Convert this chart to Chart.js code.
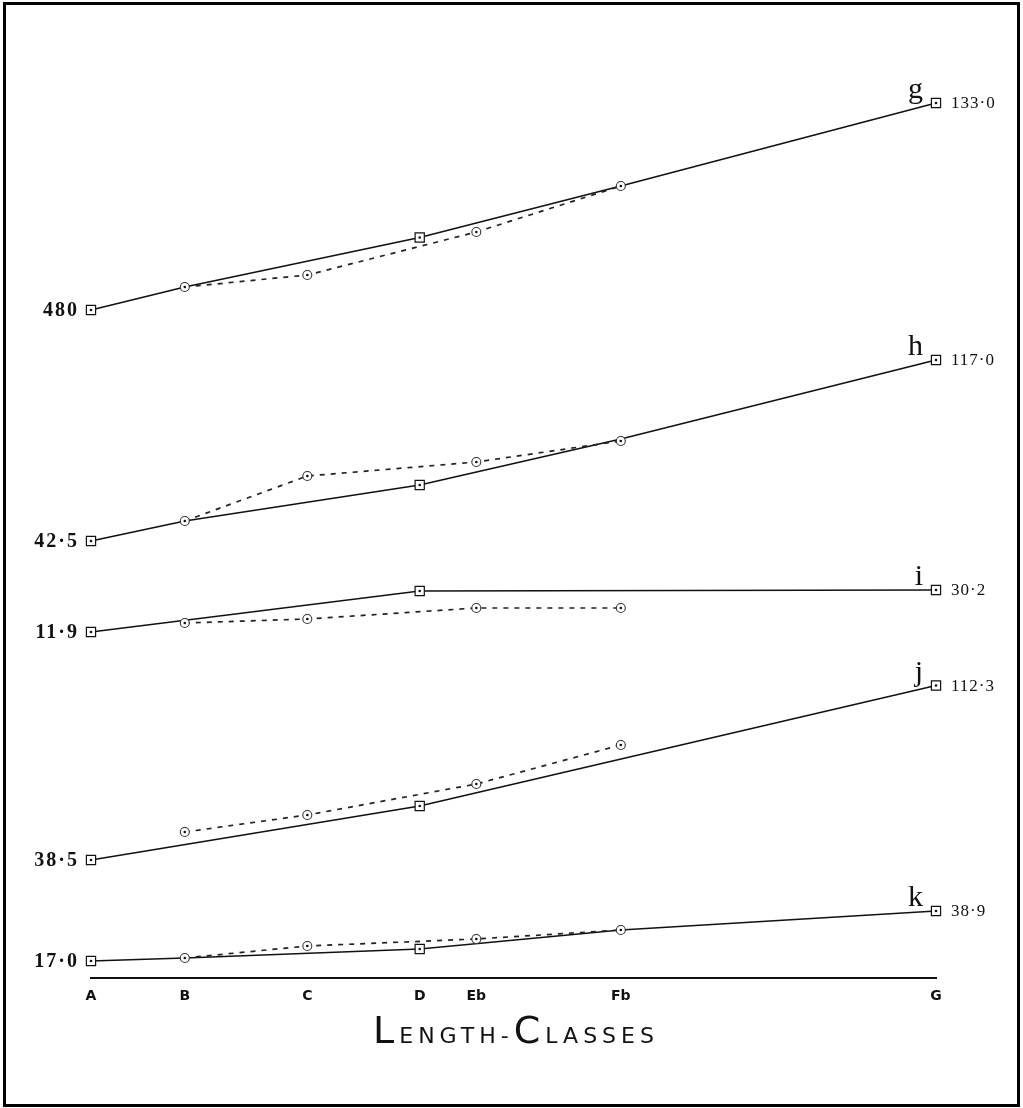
<!DOCTYPE html>
<html>
<head>
<meta charset="utf-8">
<script src="https://cdn.jsdelivr.net/npm/chart.js@4"></script>
<style>
  html, body { margin: 0; padding: 0; background: #fff; }
  #wrap { position: relative; width: 1023px; height: 1108px; }
  #frame { position: absolute; left: 3px; top: 2px; width: 1011px; height: 1099px; border: 3px solid #000; pointer-events: none; box-sizing: content-box; }
</style>
</head>
<body>
<div id="wrap">
  <canvas id="c" width="1023" height="1108"></canvas>
  <div id="frame"></div>
</div>
<script>
// ---- data ----
const categories = ['A', 'B', 'C', 'D', 'Eb', 'Fb', 'G'];
const classPositions = [0, 11.1, 25.6, 38.9, 45.6, 62.7, 100];
const curveNames = ['g', 'h', 'i', 'j', 'k'];
const startLabels = ['480', '42·5', '11·9', '38·5', '17·0'];
const endLabels = ['133·0', '117·0', '30·2', '112·3', '38·9'];
// solid (calculated) curves, plotted height on the sheet
const solidG = [668, 691, null, 740.5, null, 792, 875];
const solidH = [437, 457, null, 493, null, 539, 618];
const solidI = [346, null, null, 387, null, null, 388];
const solidJ = [118, null, null, 172, null, null, 292.5];
const solidK = [17, 20, null, 29, null, 48, 67];
// dashed (observed) curves
const dashedG = [null, 691, 703, null, 746, 792, null];
const dashedH = [null, 457, 502, null, 516, 537, null];
const dashedI = [null, 355, 359, null, 370, 370, null];
const dashedJ = [null, 146, 163, null, 194, 233, null];
const dashedK = [null, 20, 32, null, 39, 48, null];

const solidSeries = [solidG, solidH, solidI, solidJ, solidK];
const dashedSeries = [dashedG, dashedH, dashedI, dashedJ, dashedK];
const squareAt = ['A', 'D', 'G'];

function toPoints(vals) {
  return categories.map((c, i) => ({ x: classPositions[i], y: vals[i], cat: c }))
    .filter(p => p.y !== null);
}

const datasets = [];
curveNames.forEach((name, k) => {
  datasets.push({
    label: name + ' calculated',
    data: toPoints(solidSeries[k]),
    borderColor: '#111',
    borderWidth: 1.7,
    pointStyle: 'rect',
    pointRadius: ctx => (ctx.raw && squareAt.includes(ctx.raw.cat)) ? 6.5 : 0,
    pointBackgroundColor: '#fff',
    pointBorderColor: '#111',
    pointBorderWidth: 1.2,
    tension: 0,
    clip: false,
    order: 1,
    kind: 'solid',
    curve: k
  });
  datasets.push({
    label: name + ' observed',
    data: toPoints(dashedSeries[k]),
    borderColor: '#222',
    borderWidth: 1.7,
    borderDash: [5, 6],
    pointStyle: 'circle',
    pointRadius: 4.5,
    pointBackgroundColor: '#fff',
    pointBorderColor: '#333',
    pointBorderWidth: 1.1,
    tension: 0,
    clip: false,
    order: 0,
    kind: 'dashed',
    curve: k
  });
});

const decor = {
  id: 'decor',
  afterDatasetsDraw(chart) {
    const ctx = chart.ctx;
    ctx.save();
    // centre dots in markers
    chart.data.datasets.forEach((ds, di) => {
      const meta = chart.getDatasetMeta(di);
      meta.data.forEach((el, j) => {
        const raw = ds.data[j];
        if (ds.kind === 'solid' && !squareAt.includes(raw.cat)) return;
        ctx.beginPath();
        ctx.fillStyle = '#111';
        ctx.arc(el.x, el.y, 1.3, 0, Math.PI * 2);
        ctx.fill();
      });
    });
    // curve labels
    chart.data.datasets.forEach((ds, di) => {
      if (ds.kind !== 'solid') return;
      const meta = chart.getDatasetMeta(di);
      const first = meta.data[0];
      const last = meta.data[meta.data.length - 1];
      const k = ds.curve;
      ctx.fillStyle = '#111';
      ctx.textBaseline = 'middle';
      ctx.textAlign = 'right';
      ctx.letterSpacing = '2px';
      ctx.font = 'bold 20px "Liberation Serif", "DejaVu Serif", serif';
      ctx.fillText(startLabels[k], first.x - 12, first.y + 1);
      ctx.textAlign = 'left';
      ctx.letterSpacing = '1px';
      ctx.font = '17px "Liberation Serif", "DejaVu Serif", serif';
      ctx.fillText(endLabels[k], last.x + 15, last.y + 1);
      ctx.letterSpacing = '0px';
      ctx.textAlign = 'right';
      ctx.textBaseline = 'alphabetic';
      ctx.font = '30px "Liberation Serif", "DejaVu Serif", serif';
      ctx.fillText(curveNames[k], last.x - 13, last.y - 5);
    });
    // axis title in small capitals
    const parts = [
      { t: 'L', s: 38 }, { t: 'ENGTH-', s: 22 }, { t: 'C', s: 38 }, { t: 'LASSES', s: 22 }
    ];
    ctx.textAlign = 'left';
    ctx.textBaseline = 'alphabetic';
    ctx.letterSpacing = '5px';
    let total = 0;
    parts.forEach(p => {
      ctx.font = p.s + 'px "DejaVu Sans", sans-serif';
      p.w = ctx.measureText(p.t).width;
      total += p.w;
    });
    const xa = chart.scales.x;
    let x = 516 - total / 2;
    const baseY = xa.bottom + 25;
    parts.forEach(p => {
      ctx.font = p.s + 'px "DejaVu Sans", sans-serif';
      ctx.fillText(p.t, x, baseY);
      x += p.w;
    });
    ctx.restore();
  }
};

new Chart(document.getElementById('c'), {
  type: 'line',
  data: { datasets },
  options: {
    responsive: false,
    animation: false,
    layout: { padding: { left: 91, right: 87, top: 78, bottom: 90 } },
    plugins: { legend: { display: false }, tooltip: { enabled: false }, title: { display: false } },
    scales: {
      x: {
        type: 'linear',
        min: 0,
        max: 100,
        grid: { display: false, drawTicks: false },
        border: { display: true, color: '#111', width: 2 },
        afterBuildTicks: scale => { scale.ticks = classPositions.map(v => ({ value: v })); },
        afterFit: scale => { scale.height = 40; },
        ticks: {
          autoSkip: false,
          maxRotation: 0,
          padding: 10,
          color: '#111',
          font: { family: '"DejaVu Sans", sans-serif', size: 14, weight: 'bold' },
          callback: v => categories[classPositions.indexOf(v)]
        }
      },
      y: {
        display: false,
        min: 0,
        max: 900
      }
    }
  },
  plugins: [decor]
});
</script>
</body>
</html>
